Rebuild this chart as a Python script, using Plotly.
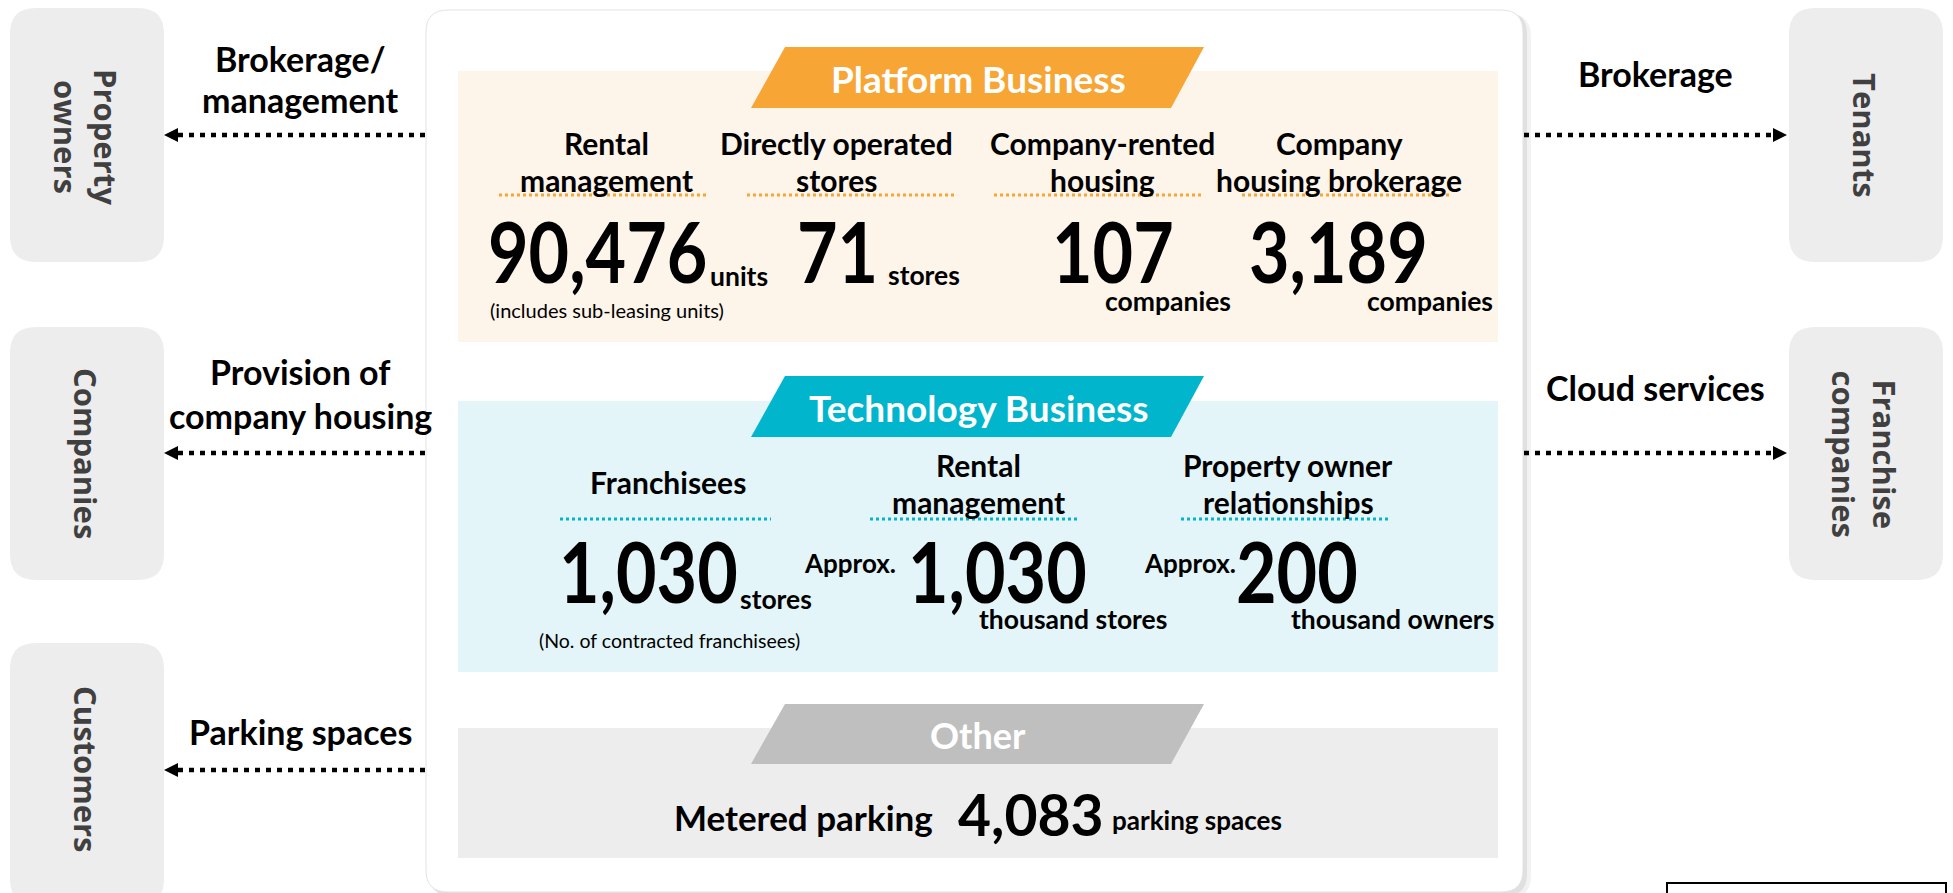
import plotly.graph_objects as go

W, H = 1953, 893

# ------------------------------------------------------------------ data
left_partners = ["Property<br>owners", "Companies", "Customers"]
left_flows = [["Brokerage/", "management"], ["Provision of", "company housing"], ["Parking spaces"]]
right_partners = ["Tenants", "Franchise<br>companies"]
right_flows = [["Brokerage"], ["Cloud services"]]

segments = ["Platform Business", "Technology Business", "Other"]

platform_metrics = [["Rental", "management"], ["Directly operated", "stores"],
                    ["Company-rented", "housing"], ["Company", "housing brokerage"]]
platform_values = [90476, 71, 107, 3189]
platform_units = ["units", "stores", "companies", "companies"]
platform_notes = ["(includes sub-leasing units)", "", "", ""]

tech_metrics = [["Franchisees"], ["Rental", "management"], ["Property owner", "relationships"]]
tech_prefix = ["", "Approx.", "Approx."]
tech_values = [1030, 1030, 200]
tech_units = ["stores", "thousand stores", "thousand owners"]
tech_notes = ["(No. of contracted franchisees)", "", ""]

other_metric = "Metered parking"
other_value = 4083
other_unit = "parking spaces"

# ------------------------------------------------------------------ styles
LATO = "Lato, 'Open Sans', sans-serif"
BOXF = "'Open Sans', Lato, sans-serif"
ORANGE = "#F7A535"
TEAL = "#00B5CC"
GREYBAN = "#BFBFBF"
PF_BG = "#FDF4EA"
TE_BG = "#E3F5F8"
OT_BG = "#EDEDED"
BOX_BG = "#EDEDED"
BOX_TX = "#404040"
BIG = 70

fig = go.Figure()
shapes = []
annos = []


def rrect(x0, y0, x1, y1, r):
    return (f"M {x0+r},{y0} L {x1-r},{y0} Q {x1},{y0} {x1},{y0+r} "
            f"L {x1},{y1-r} Q {x1},{y1} {x1-r},{y1} L {x0+r},{y1} "
            f"Q {x0},{y1} {x0},{y1-r} L {x0},{y0+r} Q {x0},{y0} {x0+r},{y0} Z")


def add_path(path, fill, line_color=None, lw=0):
    shapes.append(dict(type="path", path=path, fillcolor=fill, layer="below",
                       line=dict(color=line_color or fill, width=lw)))


def add_rect(x0, y0, x1, y1, fill, line_color=None, lw=0):
    shapes.append(dict(type="rect", x0=x0, y0=y0, x1=x1, y1=y1, fillcolor=fill,
                       layer="below", line=dict(color=line_color or fill, width=lw)))


def txt(x, y, text, size, color="black", weight=700, family=LATO, angle=0,
        xanchor="center", yanchor="middle"):
    annos.append(dict(x=x, y=y, text=text, showarrow=False, xanchor=xanchor,
                      yanchor=yanchor, textangle=angle,
                      font=dict(family=family, size=size, color=color, weight=weight)))


def lines(x, ys, parts, size, **kw):
    for y, p in zip(ys, parts):
        txt(x, y, p, size, **kw)


def dotted(x0, x1, y, color, width, dash):
    shapes.append(dict(type="line", x0=x0, x1=x1, y0=y, y1=y, layer="above",
                       line=dict(color=color, width=width, dash=dash)))


# ------------------------------------------------------------------ main panel
add_path(rrect(432, 14, 1531, 898, 22), "rgba(0,0,0,0.05)")
add_path(rrect(429, 12, 1527, 896, 22), "rgba(0,0,0,0.07)")
add_path(rrect(426, 10, 1523, 892, 22), "white", "#E2E2E2", 1)

sec_bg = [(71, 342, PF_BG), (401, 672, TE_BG), (728, 858, OT_BG)]
for y0, y1, c in sec_bg:
    add_rect(458, y0, 1498, y1, c)

ban = [(47, 108, ORANGE), (376, 437, TEAL), (704, 764, GREYBAN)]
for (y0, y1, c), name in zip(ban, segments):
    add_path(f"M 751,{y1} L 785,{y0} L 1204,{y0} L 1171,{y1} Z", c)
    txt(978, (y0 + y1) / 2 + 1, name, 37 if name != "Other" else 36, color="white")

# ------------------------------------------------------------------ partner boxes
lbox_y = [(8, 262), (327, 580), (643, 905)]
lbox_cy = [137, 453, 769]
for (y0, y1), cy, lab in zip(lbox_y, lbox_cy, left_partners):
    add_path(rrect(10, y0, 164, y1, 26), BOX_BG)
    txt(86, cy, lab, 31, color=BOX_TX, family=BOXF, angle=90)

rbox_y = [(8, 262), (327, 580)]
for (y0, y1), lab in zip(rbox_y, right_partners):
    add_path(rrect(1789, y0, 1943, y1, 26), BOX_BG)
    txt(1865, (y0 + y1) / 2, lab, 31, color=BOX_TX, family=BOXF, angle=90)

# ------------------------------------------------------------------ flows / arrows
DASH = "5px,6px"
left_arrow_y = [135, 453, 770]
left_label_y = [[58, 99], [371, 415], [731]]
for ay, ly, lab in zip(left_arrow_y, left_label_y, left_flows):
    dotted(178, 426, ay, "black", 4.5, DASH)
    add_path(f"M 164,{ay} L 178,{ay-7} L 178,{ay+7} Z", "black")
    lines(300, ly, lab, 34)

right_arrow_y = [135, 453]
right_label_y = [[73], [387]]
for ay, ly, lab in zip(right_arrow_y, right_label_y, right_flows):
    dotted(1524, 1773, ay, "black", 4.5, DASH)
    add_path(f"M 1787,{ay} L 1773,{ay-7} L 1773,{ay+7} Z", "black")
    lines(1655, ly, lab, 34)

# ------------------------------------------------------------------ platform business
pf_hdr_x = [606, 836, 1102, 1339]
pf_ul = [(499, 708), (747, 957), (994, 1204), (1242, 1451)]
pf_val_x = [597, 837, 1113, 1338]
pf_unit_xy = [(739, 276), (924, 275), (1168, 301), (1430, 301)]
for i, m in enumerate(platform_metrics):
    lines(pf_hdr_x[i], [143, 180], m, 30)
    dotted(pf_ul[i][0], pf_ul[i][1], 195, ORANGE, 3, "3px,3px")
    txt(pf_val_x[i], 251, f"{platform_values[i]:,}", BIG)
    txt(pf_unit_xy[i][0], pf_unit_xy[i][1], platform_units[i], 26.5)
    if platform_notes[i]:
        txt(607, 310, platform_notes[i], 20, weight=400)

# ------------------------------------------------------------------ technology business
te_hdr_x = [668, 978, 1288]
te_hdr_y = [[482], [465, 502], [465, 502]]
te_ul = [(560, 771), (870, 1079), (1181, 1390)]
te_val_x = [648, 997, 1297]
te_pre_x = [None, 850, 1190]
te_unit_xy = [(776, 599), (1073, 619), (1392, 619)]
for i, m in enumerate(tech_metrics):
    lines(te_hdr_x[i], te_hdr_y[i], m, 30)
    dotted(te_ul[i][0], te_ul[i][1], 519, TEAL, 3, "3px,3px")
    txt(te_val_x[i], 571, f"{tech_values[i]:,}", BIG)
    if tech_prefix[i]:
        txt(te_pre_x[i], 563, tech_prefix[i], 26)
    txt(te_unit_xy[i][0], te_unit_xy[i][1], tech_units[i], 26.5)
    if tech_notes[i]:
        txt(669, 640, tech_notes[i], 19.5, weight=400)

# ------------------------------------------------------------------ other
txt(803, 817, other_metric, 35)
txt(1031, 814, f"{other_value:,}", 57)
txt(1197, 820, other_unit, 26)

# bottom-right empty frame
add_rect(1667, 883, 1946, 900, "white", "black", 2)

fig.update_layout(
    width=W, height=H, margin=dict(l=0, r=0, t=0, b=0),
    paper_bgcolor="white", plot_bgcolor="white", showlegend=False,
    xaxis=dict(range=[0, W], visible=False, fixedrange=True),
    yaxis=dict(range=[H, 0], visible=False, fixedrange=True),
    shapes=shapes, annotations=annos,
)

post = """
document.body.style.margin='0';document.body.style.overflow='hidden';
document.querySelectorAll('.annotation-text').forEach(function(t){
  var fs = parseFloat(t.style.fontSize || '0');
  if (/^[0-9,]+$/.test(t.textContent) && fs >= 65) {
    t.style.transformBox = 'fill-box';
    t.style.transformOrigin = 'center';
    t.style.transform = 'scale(1,1.2)';
  }
});
"""
fig.write_html("out.html", config={"displayModeBar": False}, post_script=post)
